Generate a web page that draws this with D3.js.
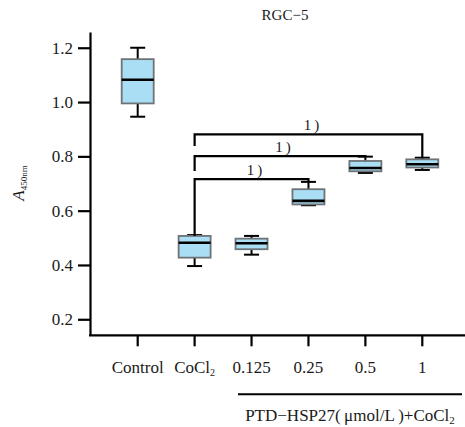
<!DOCTYPE html>
<html>
<head>
<meta charset="utf-8">
<script src="https://cdn.jsdelivr.net/npm/d3@7"></script>
<style>
  body { margin: 0; background: #fff; }
  text { font-family: "Liberation Serif", "Times New Roman", serif; fill: #1a1a1a; }
</style>
</head>
<body>
<div id="chart"></div>
<script>
    // box plot values
    var categories = ["Control", "CoCl2", "0.125", "0.25", "0.5", "1"];
    var whiskerLow = [0.946, 0.396, 0.438, 0.620, 0.739, 0.750];
    var q1 = [0.995, 0.427, 0.458, 0.623, 0.745, 0.759];
    var median = [1.082, 0.482, 0.480, 0.636, 0.757, 0.771];
    var q3 = [1.158, 0.507, 0.497, 0.679, 0.783, 0.789];
    var whiskerHigh = [1.200, 0.510, 0.507, 0.706, 0.799, 0.795];
    var yTicks = [0.2, 0.4, 0.6, 0.8, 1.0, 1.2];

    // significance brackets: from CoCl2 to target group
    var bracketTarget = ["1", "0.5", "0.25"];
    var bracketLevel = [0.881, 0.801, 0.716];
    var bracketLeftEnd = [0.838, 0.746, 0.507];
    var bracketLabel = ["1", "1", "1"];

    var width = 465, height = 427;

    var svg = d3.select("#chart").append("svg")
        .attr("width", width)
        .attr("height", height);

    var x = d3.scalePoint()
        .domain(categories)
        .range([137.7, 422.3]);

    var y = d3.scaleLinear()
        .domain([0.141, 1.258])
        .range([335.3, 32]);

    var boxW = 32, capW = 15;

    // axes
    var yAxis = svg.append("g")
        .attr("transform", "translate(90,0)")
        .call(d3.axisLeft(y).tickValues(yTicks).tickSize(12).tickSizeOuter(0)
            .tickFormat(d3.format(".1f")));
    yAxis.select(".domain").attr("stroke-width", 2.2);
    yAxis.selectAll(".tick line").attr("stroke-width", 2.2);
    yAxis.selectAll(".tick text")
        .attr("x", -17)
        .attr("fill", "#1a1a1a")
        .style("font-size", "17px")
        .style("font-family", "'Liberation Serif', serif");

    var xAxis = svg.append("g")
        .attr("transform", "translate(0," + y(0.141) + ")");
    xAxis.append("line")
        .attr("x1", 89).attr("x2", 465)
        .attr("stroke", "#000").attr("stroke-width", 2.2);
    xAxis.selectAll(".xtick")
        .data(categories)
        .enter().append("line")
        .attr("x1", function(d) { return x(d); })
        .attr("x2", function(d) { return x(d); })
        .attr("y1", 0).attr("y2", 11)
        .attr("stroke", "#000").attr("stroke-width", 2.2);

    var xLab = xAxis.selectAll(".xlab")
        .data(categories)
        .enter().append("text")
        .attr("x", function(d) { return x(d); })
        .attr("y", 38)
        .attr("text-anchor", "middle")
        .style("font-size", "17px");
    xLab.each(function(d) {
        var t = d3.select(this);
        if (d == "CoCl2") {
            t.append("tspan").text("CoCl");
            t.append("tspan").attr("dy", 3).style("font-size", "10px").text("2");
        } else {
            t.text(d);
        }
    });

    // group line + label under the concentrations
    svg.append("line")
        .attr("x1", 238).attr("x2", 462)
        .attr("y1", 394.3).attr("y2", 394.3)
        .attr("stroke", "#000").attr("stroke-width", 2);
    var grp = svg.append("text")
        .attr("x", 350).attr("y", 421)
        .attr("text-anchor", "middle")
        .style("font-size", "17px");
    grp.append("tspan").text("PTD\u2212HSP27(\u2009\u03bcmol/L\u2009)+CoCl");
    grp.append("tspan").attr("dy", 3).style("font-size", "11px").text("2");

    // title
    svg.append("text")
        .attr("x", 285).attr("y", 20)
        .attr("text-anchor", "middle")
        .style("font-size", "15px")
        .text("RGC\u22125");

    // y label
    var yl = svg.append("text")
        .attr("transform", "translate(24,183) rotate(-90)")
        .attr("text-anchor", "middle");
    yl.append("tspan").style("font-style", "italic").style("font-size", "17px").text("A");
    yl.append("tspan").attr("dy", 3).style("font-size", "9px").text("450nm");

    // boxes
    var boxes = svg.append("g").selectAll("g")
        .data(categories)
        .enter().append("g");

    boxes.append("line")
        .attr("x1", function(d) { return x(d); })
        .attr("x2", function(d) { return x(d); })
        .attr("y1", function(d, i) { return y(whiskerLow[i]); })
        .attr("y2", function(d, i) { return y(whiskerHigh[i]); })
        .attr("stroke", "#000").attr("stroke-width", 2);

    [whiskerLow, whiskerHigh].forEach(function(arr) {
        boxes.append("line")
            .attr("x1", function(d) { return x(d) - capW / 2; })
            .attr("x2", function(d) { return x(d) + capW / 2; })
            .attr("y1", function(d, i) { return y(arr[i]); })
            .attr("y2", function(d, i) { return y(arr[i]); })
            .attr("stroke", "#000").attr("stroke-width", 2);
    });

    boxes.append("rect")
        .attr("x", function(d) { return x(d) - boxW / 2; })
        .attr("y", function(d, i) { return y(q3[i]); })
        .attr("width", boxW)
        .attr("height", function(d, i) { return y(q1[i]) - y(q3[i]); })
        .attr("fill", "#a9def5")
        .attr("stroke", "#6e7378")
        .attr("stroke-width", 1.8);

    boxes.append("line")
        .attr("x1", function(d) { return x(d) - boxW / 2; })
        .attr("x2", function(d) { return x(d) + boxW / 2; })
        .attr("y1", function(d, i) { return y(median[i]); })
        .attr("y2", function(d, i) { return y(median[i]); })
        .attr("stroke", "#000").attr("stroke-width", 2.6);

    // brackets
    var x0 = x("CoCl2");
    bracketTarget.forEach(function(t, i) {
        var ti = categories.indexOf(t);
        var pts = [[x0, y(bracketLeftEnd[i])], [x0, y(bracketLevel[i])],
                   [x(t), y(bracketLevel[i])], [x(t), y(whiskerHigh[ti])]];
        svg.append("path")
            .attr("d", d3.line()(pts))
            .attr("fill", "none")
            .attr("stroke", "#000")
            .attr("stroke-width", 2.2);
        svg.append("text")
            .attr("x", (x0 + x(t)) / 2 + 3)
            .attr("y", y(bracketLevel[i]) - 4)
            .attr("text-anchor", "middle")
            .style("font-size", "15px")
            .text(bracketLabel[i] + "\u2009)");
    });
</script>
</body>
</html>
